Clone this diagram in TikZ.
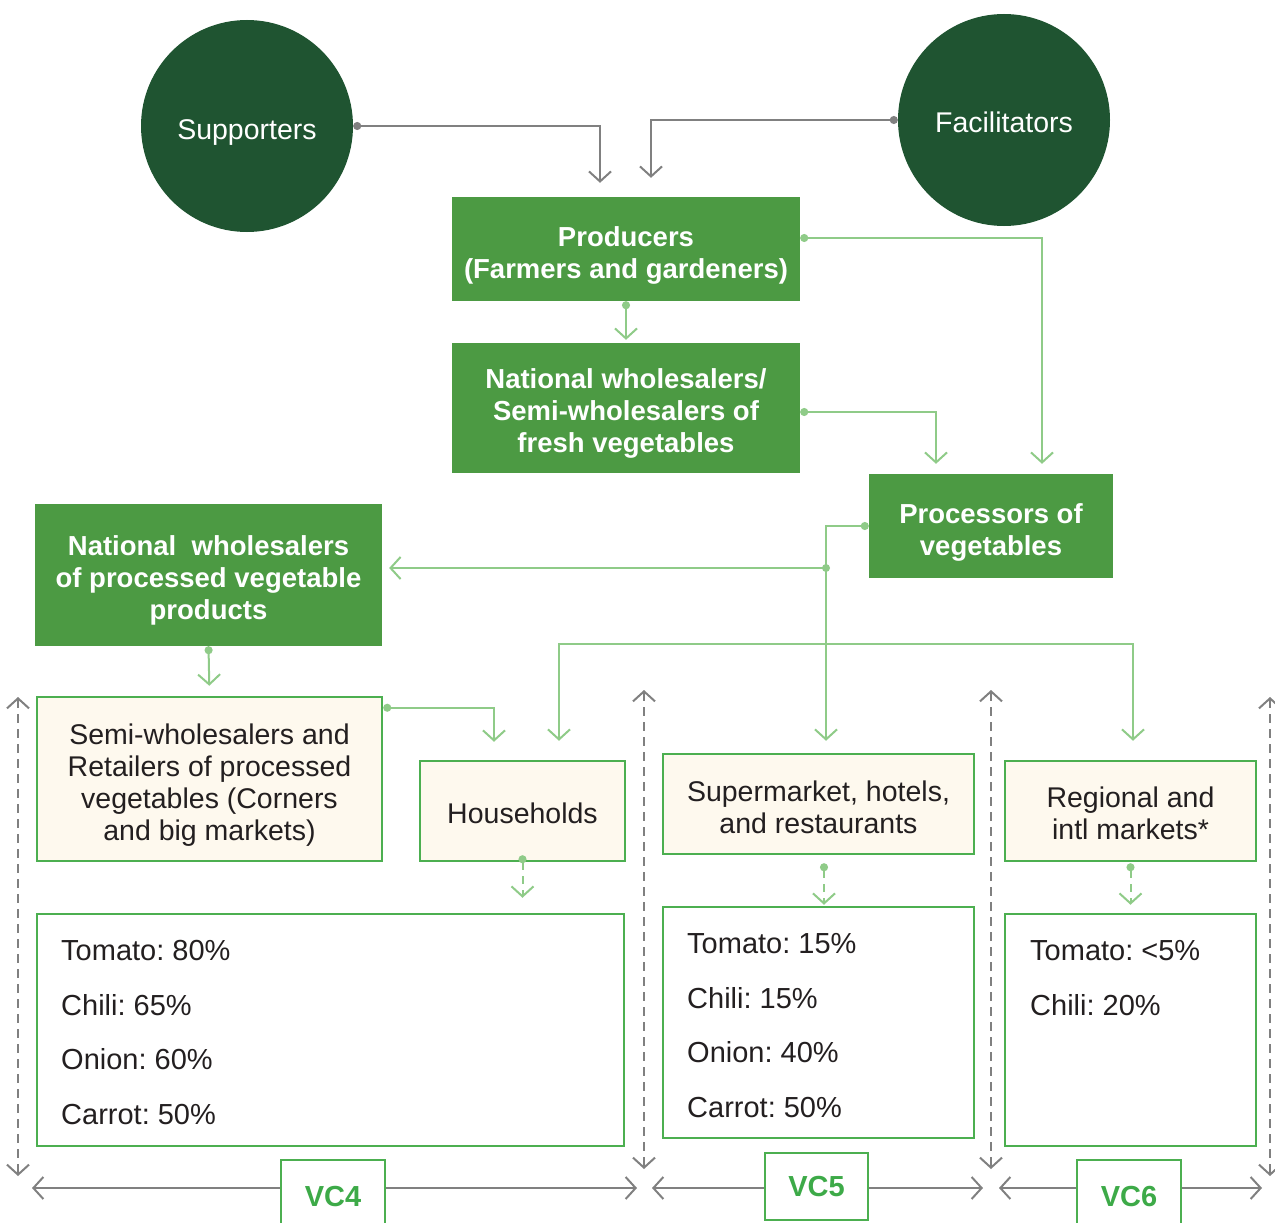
\documentclass[tikz,border=0pt]{standalone}
\usepackage{fontspec}
\setmainfont{Liberation Sans}
\usetikzlibrary{arrows.meta}

\definecolor{forest}{HTML}{1F5431}
\definecolor{leaf}{HTML}{4C9A43}
\definecolor{mint}{HTML}{8FCB88}
\definecolor{edge}{HTML}{4CAF50}
\definecolor{cream}{HTML}{FEF9EE}
\definecolor{slate}{HTML}{808080}
\definecolor{ink}{HTML}{231F20}
\definecolor{vctext}{HTML}{3DAA48}

\frenchspacing
% strut that pushes the first line of a box down
\newcommand\lift[1]{\rule{0pt}{#1}}

\begin{document}
\begin{tikzpicture}[x=1pt, y=-1pt,
        >={Straight Barb[length=10pt, width=22pt]},
        actor/.style={circle, fill=forest, text=white, minimum size=212pt, inner sep=0pt,
                font=\fontsize{28.5}{32}\selectfont},
        stage/.style={fill=leaf, text=white, align=center, inner sep=0pt,
                font=\fontsize{27.5}{32}\selectfont\bfseries},
        market/.style={draw=edge, line width=2.5pt, fill=cream, text=ink, align=center, inner sep=0pt,
                font=\fontsize{28.5}{32}\selectfont},
        share/.style={draw=edge, line width=2.5pt, inner sep=0pt},
        list/.style={anchor=north west, align=left, inner sep=0pt, text=ink,
                font=\fontsize{29}{54.7}\selectfont},
        vc/.style={draw=edge, line width=2.5pt, fill=white, text=vctext, inner sep=0pt,
                font=\fontsize{29}{32}\selectfont\bfseries},
        flow/.style={draw=mint, line width=2pt, {Circle[length=8pt]}->},
        feed/.style={flow, dash pattern=on 8pt off 6pt},
        link/.style={draw=slate, line width=2pt, {Circle[length=8pt]}->},
        span/.style={draw=slate, line width=2pt, ->},
        divider/.style={draw=slate, line width=2pt, dash pattern=on 9pt off 6pt, <->}]
        \useasboundingbox (0,0) rectangle (1275,1223);
        % Actors
        \node [actor] (sup) at (247,126) {\lift{32pt}Supporters};
        \node [actor] (fac) at (1004,120) {\lift{25pt}Facilitators};
        % Chain stages
        \node [stage, minimum width=348pt, minimum height=104pt] (prod) at (626,249)
                {\lift{32pt}Producers\\(Farmers and gardeners)};
        \node [stage, minimum width=348pt, minimum height=130pt] (natw) at (626,408)
                {\lift{30pt}National wholesalers/\\Semi-wholesalers of\\fresh vegetables};
        \node [stage, minimum width=244pt, minimum height=104pt] (proc) at (991,526)
                {\lift{32pt}Processors of\\vegetables};
        \node [stage, minimum width=347pt, minimum height=142pt] (natp) at (208.5,575)
                {\lift{30pt}National\ \ wholesalers\\of processed vegetable\\products};
        % End markets
        \node [market, minimum width=345pt, minimum height=164pt] (semi) at (209.5,779)
                {\lift{33pt}Semi-wholesalers and\\Retailers of processed\\vegetables (Corners\\and big markets)};
        \node [market, minimum width=205pt, minimum height=100pt] (house) at (522.5,811)
                {\lift{26pt}Households};
        \node [market, minimum width=311pt, minimum height=100pt] (super) at (818.5,804)
                {\lift{27pt}Supermarket, hotels,\\and restaurants};
        \node [market, minimum width=251pt, minimum height=100pt] (regio) at (1130.5,811)
                {\lift{25pt}Regional and\\intl markets*};
        % Shares
        \node [share, minimum width=587pt, minimum height=232pt] (share4) at (330.5,1030) {};
        \node [share, minimum width=311pt, minimum height=231pt] (share5) at (818.5,1022.5) {};
        \node [share, minimum width=251pt, minimum height=232pt] (share6) at (1130.5,1030) {};
        \node [list] (list4) at (61,940) {Tomato: 80\%\\Chili: 65\%\\Onion: 60\%\\Carrot: 50\%};
        \node [list] (list5) at (687,933) {Tomato: 15\%\\Chili: 15\%\\Onion: 40\%\\Carrot: 50\%};
        \node [list] (list6) at (1030,940) {Tomato: <5\%\\Chili: 20\%};
        % Support links
        \draw [link, shorten >=14pt] (sup.east) -| ([xshift=-26pt]prod.north);
        \draw [link, shorten >=19pt] (fac.west) -| ([xshift=25pt]prod.north);
        % Product flows
        \draw [flow, shorten >=3pt] (prod.south) -- (natw.north);
        \draw [flow, shorten >=10pt] ([yshift=11pt]prod.east) -| ([xshift=51pt]proc.north);
        \draw [flow, shorten >=10pt] ([yshift=-4pt]natw.east) -| ([xshift=-55pt]proc.north);
        \draw [flow, shorten >=12pt] (proc.west) -| ([xshift=7.5pt]super.north);
        \coordinate (split) at (826,568);
        \coordinate (bus) at (826,644);
        \fill [mint] (split) circle (4pt);
        \draw [flow, -> , shorten >=7pt] (split) -- (split -| natp.east);
        \draw [flow, -> , shorten >=19pt] (bus) -| ([xshift=36.5pt]house.north);
        \draw [flow, -> , shorten >=19pt] (bus) -| ([xshift=2.5pt]regio.north);
        \draw [flow, shorten >=10pt] (natp.south) -- (semi.north);
        \draw [flow, shorten >=18pt] ([yshift=-12pt]semi.north east) -| ([xshift=-28.5pt]house.north);
        % Shares of each chain
        \draw [feed, shorten <=-7pt, shorten >=15pt] (house.south) -- (house.south |- share4.north);
        \draw [feed, shorten <=8pt, shorten >=1pt] ([xshift=5.5pt]super.south) -- ([xshift=5.5pt]share5.north);
        \draw [feed, shorten <=1pt, shorten >=8pt] (regio.south) -- (share6.north);
        % Value chains
        \foreach \x/\top in {18/697, 644/690, 991/690, 1270/697}
                \draw [divider] (\x,\top) -- (\x,\top+479);
        \node [vc, minimum width=104pt, minimum height=74pt] (vc4) at (333,1197) {VC4};
        \node [vc, minimum width=103pt, minimum height=67pt] (vc5) at (816.5,1186.5) {VC5};
        \node [vc, minimum width=104pt, minimum height=74pt] (vc6) at (1129,1197) {VC6};
        \coordinate (l4) at (32,1188);
        \coordinate (r4) at (637,1188);
        \coordinate (l5) at (652,1188);
        \coordinate (r5) at (983,1188);
        \coordinate (l6) at (999,1188);
        \coordinate (r6) at (1262,1188);
        \draw [span] (vc4.west |- l4) -- (l4);
        \draw [span] (vc4.east |- r4) -- (r4);
        \draw [span] (vc5.west |- l5) -- (l5);
        \draw [span] (vc5.east |- r5) -- (r5);
        \draw [span] (vc6.west |- l6) -- (l6);
        \draw [span] (vc6.east |- r6) -- (r6);
\end{tikzpicture}
\end{document}
